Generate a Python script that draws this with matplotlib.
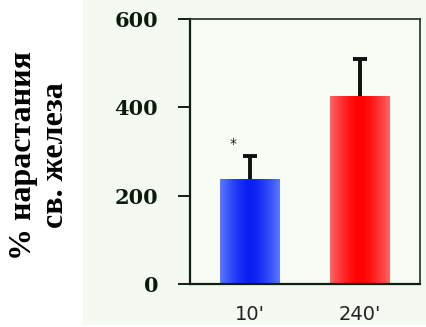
import numpy as np
import matplotlib
matplotlib.use("Agg")
import matplotlib.pyplot as plt
from matplotlib.colors import LinearSegmentedColormap
from matplotlib.patches import Rectangle

# Iron increase after 10 and 240 minutes
labels = ["10'", "240'"]
values = [238, 426]
errors = [52, 83]
marks = ["*", ""]

bar_colors = [("#5b78ff", "#0a1ef2"), ("#ff6464", "#ff0000")]

fig = plt.figure(figsize=(4.26, 3.27), dpi=100)
fig.patch.set_facecolor("white")

# pale panel behind the plot area
fig.patches.append(Rectangle((83 / 426, 0.006), 1 - 83 / 426, 0.994,
                             transform=fig.transFigure, facecolor="#f4faf1",
                             edgecolor="none", zorder=-1))

ax = fig.add_axes([190 / 426, 1 - 284 / 327, 230 / 426, 265 / 327])
ax.set_zorder(1)
ax.set_facecolor("#f7fcf5")

x = np.arange(len(labels))
width = 0.545
bars = ax.bar(x, values, width=width, color="none", edgecolor="none", zorder=2)

# horizontal shading: lighter at the edges, saturated in the middle
shade = np.abs(np.linspace(-1, 1, 64)) ** 1.5
for bar, (edge_c, mid_c) in zip(bars, bar_colors):
    cmap = LinearSegmentedColormap.from_list("bar", [mid_c, edge_c])
    bx, bw, bh = bar.get_x(), bar.get_width(), bar.get_height()
    im = ax.imshow(shade[np.newaxis, :], cmap=cmap, aspect="auto",
                   extent=(bx, bx + bw, 0, bh), zorder=2, interpolation="bilinear")
    im.set_clip_path(bar)

# symmetric error bars drawn under the bars, so only the upper half shows
ax.errorbar(x, values, yerr=errors, fmt="none",
            ecolor="#101010", elinewidth=2.8, capsize=4.8, capthick=2.8, zorder=1.5)

for xi, v, e, m in zip(x, values, errors, marks):
    if m:
        ax.text(xi - 0.15, v + e + 28, m, ha="center", va="center",
                fontsize=10, color="#202020")

ax.set_xlim(-width, len(labels) - 1 + width)
ax.set_ylim(0, 600)
ax.set_yticks([0, 200, 400, 600])
ax.set_xticks(x)
ax.set_xticklabels(labels, fontfamily="DejaVu Sans", fontsize=14, color="#222222")
ax.tick_params(axis="x", length=0, pad=15)
ax.tick_params(axis="y", length=9, width=1.4, color="#102010", pad=14)
for lab in ax.get_yticklabels():
    lab.set_fontfamily("DejaVu Serif")
    lab.set_fontweight("bold")
    lab.set_fontsize(15)
    lab.set_color("#0c1a0c")

for side in ["left", "bottom"]:
    ax.spines[side].set_linewidth(1.6)
    ax.spines[side].set_color("#102010")
for side in ["top", "right"]:
    ax.spines[side].set_linewidth(1.2)
    ax.spines[side].set_color("#203020")

fig.text(39.5 / 426, 1 - 155 / 327, "% нарастания\nсв. железа", rotation=90,
         ha="center", va="center", multialignment="center",
         fontfamily="Liberation Serif", fontweight="bold", fontsize=23,
         linespacing=1.15, color="black")

fig.savefig("out.png", dpi=100)
